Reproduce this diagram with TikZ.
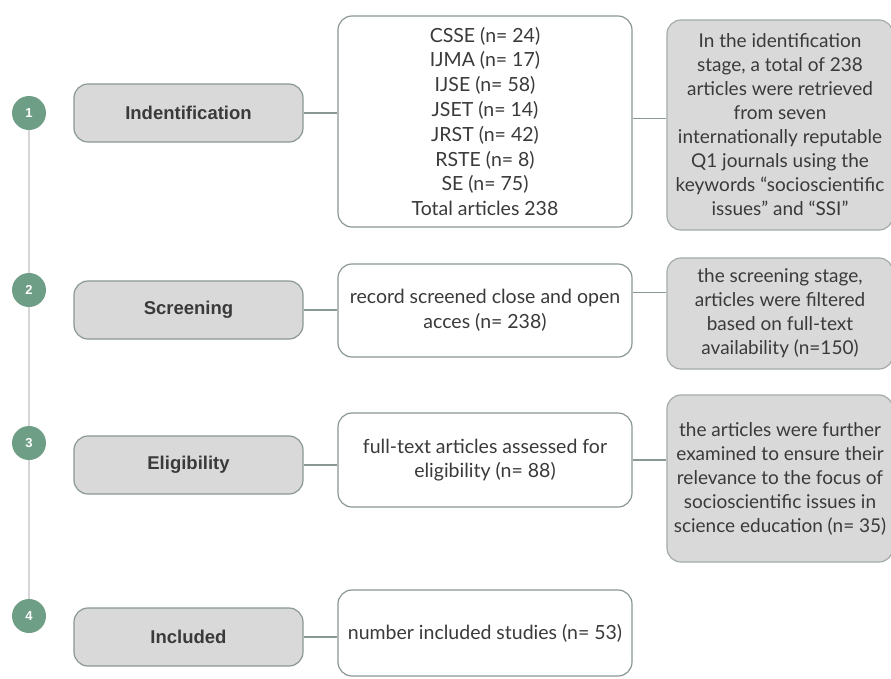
\documentclass[tikz,border=0pt]{standalone}
\usepackage{fontspec}
\setmainfont{Lato}
\newfontfamily\stagefont{Liberation Sans}
\definecolor{stepgreen}{HTML}{6E9E85}
\definecolor{boxgray}{HTML}{D9D9D9}
\definecolor{boxline}{HTML}{8A9893}
\definecolor{noteline}{HTML}{A3ACA8}
\definecolor{timeline}{HTML}{D6D6D6}
\definecolor{labelgray}{HTML}{3A3A3A}
\begin{document}
\begin{tikzpicture}[x=1pt,y=-1pt,
  num/.style={circle,fill=stepgreen,text=white,minimum size=34pt,inner sep=0pt,
    font=\stagefont\bfseries\fontsize{13}{13}\selectfont},
  stagebox/.style={draw=boxline,fill=boxgray,line width=1.2pt,rounded corners=14pt,
    minimum width=229pt,minimum height=58pt,text=labelgray,
    font=\stagefont\bfseries\fontsize{18.5}{18.5}\selectfont},
  midbox/.style={draw=boxline,fill=white,line width=1.2pt,rounded corners=14pt,
    minimum width=294pt,align=center,text=labelgray,
    font=\fontsize{19.5}{24.8}\selectfont},
  notebox/.style={draw=noteline,fill=boxgray,line width=1.2pt,rounded corners=14pt,
    minimum width=226pt,align=center,text=labelgray,
    font=\fontsize{19}{24}\selectfont},
  link/.style={draw=boxline,line width=1.2pt}]
\clip (0,0) rectangle (891,678);
\fill[white] (0,0) rectangle (891,678);

% steps
\node[num] (c1) at (29,113) {1};
\node[num] (c2) at (29,290) {2};
\node[num] (c3) at (29,443) {3};
\node[num] (c4) at (29,616) {4};

\node[stagebox] (s1) at (188.5,113) {Indentification};
\node[stagebox] (s2) at (188.5,310) {Screening};
\node[stagebox] (s3) at (188.5,465) {Eligibility};
\node[stagebox] (s4) at (188.5,637) {Included};

% records
\node[midbox,minimum height=211pt] (m1) at (485,121.5)
  {CSSE (n= 24)\\IJMA (n= 17)\\IJSE (n= 58)\\JSET (n= 14)\\JRST (n= 42)\\RSTE (n= 8)\\SE (n= 75)\\Total articles 238};
\node[midbox,minimum height=93pt] (m2) at (485,310.5)
  {record screened close and open\\acces (n= 238)};
\node[midbox,minimum height=94pt] (m3) at (485,460)
  {full-text articles assessed for\\eligibility (n= 88)};
\node[midbox,minimum height=86pt] (m4) at (485,633)
  {number included studies (n= 53)};

% notes
\node[notebox,minimum height=210pt] (r1) at (780,125)
  {In the identification\\stage, a total of 238\\articles were retrieved\\from seven\\internationally reputable\\Q1 journals using the\\keywords \textquotedblleft socioscientific\\issues\textquotedblright{} and \textquotedblleft SSI\textquotedblright};
\node[notebox,minimum height=111pt] (r2) at (780,313.5)
  {the screening stage,\\articles were filtered\\based on full-text\\availability (n=150)};
\node[notebox,minimum height=167pt] (r3) at (780,478.5)
  {the articles were further\\examined to ensure their\\relevance to the focus of\\socioscientific issues in\\science education (n= 35)};

\draw[timeline,line width=2.5pt] (c1.south) -- (c2.north) (c2.south) -- (c3.north) (c3.south) -- (c4.north);

\draw[link] (s1.east) -- (s1.east -| m1.west);
\draw[link] (s2.east) -- (s2.east -| m2.west);
\draw[link] (s3.east) -- (s3.east -| m3.west);
\draw[link] (s4.east) -- (s4.east -| m4.west);

\draw[link] ([yshift=3pt]m1.east) -- ([yshift=3pt]m1.east -| r1.west);
\draw[link] ([yshift=18pt]m2.east) -- ([yshift=18pt]m2.east -| r2.west);
\draw[link] (m3.east) -- (m3.east -| r3.west);
\end{tikzpicture}
\end{document}
